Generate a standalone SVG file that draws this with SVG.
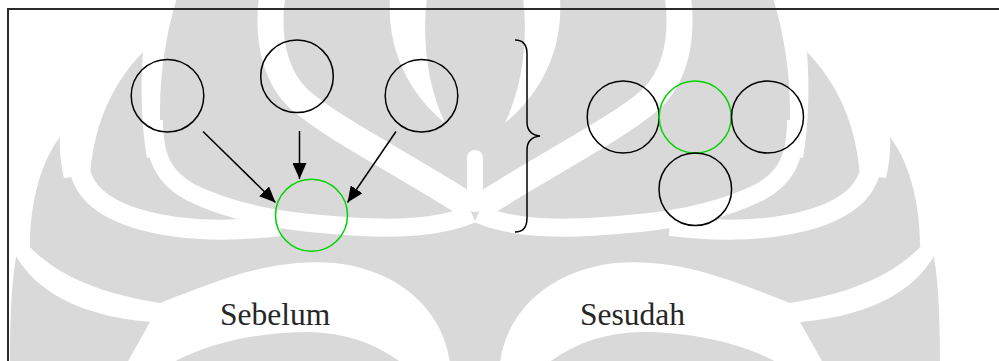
<svg xmlns="http://www.w3.org/2000/svg" xmlns:xlink="http://www.w3.org/1999/xlink" width="999" height="361" viewBox="0 0 999 361">
  <defs>
    <style>
      .wm-gray { fill: #d9d9d9; }
      .wm-gap { fill: #ffffff; }
      .wm-band { fill: none; stroke: #ffffff; stroke-linecap: butt; }
      .frame { fill: none; stroke: #2b2b2b; stroke-width: 2; }
      .node { fill: none; stroke: #000000; stroke-width: 1.5; }
      .node.merged { stroke: #00d400; }
      .edge { fill: none; stroke: #000000; stroke-width: 1.5; marker-end: url(#arrow); }
      .brace { fill: none; stroke: #000000; stroke-width: 1.5; }
      .label { font-family: "Liberation Serif", "Times New Roman", serif; font-size: 31.5px; fill: #262626; }
    </style>
    <marker id="arrow" markerUnits="userSpaceOnUse" markerWidth="16" markerHeight="14" refX="16" refY="7" orient="auto">
      <path d="M0,0 L16,7 L0,14 Z" fill="#000000"/>
    </marker>
    <clipPath id="half">
      <rect x="475" y="-5" width="530" height="371"/>
    </clipPath>
    <!-- one half of the background emblem; mirrored about x = 475 -->
    <g id="wm-half" clip-path="url(#half)">
      <path class="wm-gray" d="M475,-2 L773,-2 C783,30 790,70 790,110 C790,130 789,145 787,155 L803,158 C808,130 810,90 807,52 C832,78 855,115 860,175 L886,178 C889,165 891,150 890,137 C908,160 920,200 920,246 L932,247 C938,275 940,310 940,363 L475,363 Z"/>
      <path class="wm-gap" d="M523,-2 L560,-2 C563,45 545,90 505,123 C523,85 528,40 523,-2 Z"/>
      <path class="wm-band" stroke-width="26" d="M678,-2 C684,45 672,80 650,100 C615,130 545,165 478,208"/>
      <rect class="wm-gap" x="467" y="150" width="16" height="62" rx="8"/>
      <path class="wm-band" stroke-width="18" d="M796,120 C796,160 785,178 760,192 C730,207 690,218 640,223 C580,229 520,232 478,214"/>
      <path class="wm-band" stroke-width="20" d="M873,150 C873,185 855,205 815,218 C780,229 730,233 670,226"/>
      <path class="wm-gap" d="M500,363 C505,320 540,272 615,263 C680,258 730,280 790,303 C840,295 890,280 923,244 L938,249 C920,285 880,315 800,322 L823,363 Z"/>
      <path class="wm-gray" d="M548,363 C575,343 605,333 640,332 C690,332 740,342 778,363 Z"/>
    </g>
  </defs>

  <rect width="999" height="361" fill="#ffffff"/>

  <g id="watermark">
    <use xlink:href="#wm-half"/>
    <use xlink:href="#wm-half" transform="matrix(-1 0 0 1 950 0)"/>
  </g>

  <rect class="frame" x="8" y="9" width="1000" height="362"/>

  <!-- before: three separate circles merging into one -->
  <g id="before-a"><circle class="node" cx="167.5" cy="95.7" r="36.3"/></g>
  <g id="before-b"><circle class="node" cx="297" cy="76.3" r="36.3"/></g>
  <g id="before-c"><circle class="node" cx="421.5" cy="95.7" r="36.3"/></g>
  <g id="before-target"><circle class="node merged" cx="311.5" cy="215.3" r="36"/></g>

  <g id="connectors">
    <line class="edge" x1="203" y1="131.5" x2="275.5" y2="202.5"/>
    <line class="edge" x1="299.5" y1="131" x2="299.5" y2="179"/>
    <line class="edge" x1="396" y1="131.5" x2="347.5" y2="202.5"/>
  </g>

  <g id="brace">
    <path class="brace" d="M515,40 C524,40 527,46 527,54 L527,122 C527,130 531,135 540,136 C531,137 527,142 527,150 L527,218 C527,226 524,232 515,232"/>
  </g>

  <!-- after: the merged cluster -->
  <g id="after-left"><circle class="node" cx="623.2" cy="117" r="36"/></g>
  <g id="after-center"><circle class="node merged" cx="695.2" cy="117" r="36"/></g>
  <g id="after-right"><circle class="node" cx="767.5" cy="117" r="36"/></g>
  <g id="after-bottom"><circle class="node" cx="695.3" cy="189.2" r="36.3"/></g>

  <g id="labels">
    <text class="label" x="220" y="325">Sebelum</text>
    <text class="label" x="580" y="325">Sesudah</text>
  </g>
</svg>
